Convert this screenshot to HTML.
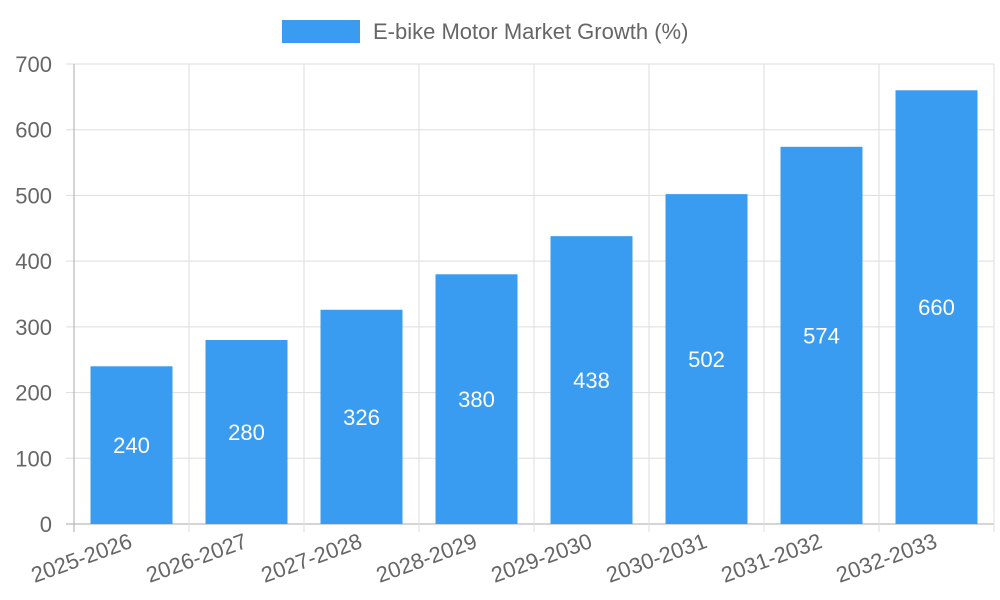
<!DOCTYPE html>
<html><head><meta charset="utf-8"><style>
html,body{margin:0;padding:0;background:#fff;}
svg{display:block;font-family:"Liberation Sans",sans-serif;}
</style></head><body>
<svg id="chart" width="1000" height="600"></svg>
<script>
const categories=["2025-2026","2026-2027","2027-2028","2028-2029","2029-2030","2030-2031","2031-2032","2032-2033"];
const values=[240,280,326,380,438,502,574,660];
const yTicks=[0,100,200,300,400,500,600,700];
const seriesName="E-bike Motor Market Growth (%)";

const NS="http://www.w3.org/2000/svg";
const svg=document.getElementById('chart');
const L=74,R=994,T=64,B=524,yMax=700;
const yScale=v=>B-(v/yMax)*(B-T);
const bw=(R-L)/categories.length;
const xC=i=>L+bw*(i+0.5);
function mk(tag,attrs,parent){const e=document.createElementNS(NS,tag);for(const k in attrs)e.setAttribute(k,attrs[k]);(parent||svg).appendChild(e);return e;}

const grid=mk('g',{});


yTicks.forEach(t=>{
  const y=yScale(t);
  const l=mk('line',{x1:L-8,x2:R,y1:y,y2:y,stroke:t===0?'#aaa':'#ddd','stroke-width':1},grid);
  
  
  const tx=mk('text',{x:L-22,y:y+8,'text-anchor':'end','font-size':22,fill:'#666'});
  tx.textContent=t;
  
  
});
for(let i=0;i<=categories.length;i++){
  const x=L+bw*i;
  const l=mk('line',{x1:x,x2:x,y1:T,y2:B+8,stroke:i===0?'#aaa':'#ddd','stroke-width':1},grid);
  
  
}
categories.forEach((c,i)=>{
  const v=values[i];
  const x=xC(i)-41, w=82, y=yScale(v);
  const r=mk('rect',{x:x,y:y,width:w,height:B-y,fill:'#399cf0'});
  
  
  const vt=mk('text',{x:xC(i),y:(y+B)/2+8,'text-anchor':'middle','font-size':22,fill:'#fff'});
  vt.textContent=v;
  
  
  const ax=xC(i)+2, ay=547;
  const xl=mk('text',{x:ax,y:ay,'text-anchor':'end','font-size':22,fill:'#666',transform:`rotate(-20 ${ax} ${ay})`});
  xl.textContent=c;
  
  
});
const lg=mk('g',{});


mk('rect',{x:282,y:20,width:78,height:23,fill:'#399cf0'},lg);
const lt=mk('text',{x:373,y:39,'font-size':22,fill:'#666'},lg);
lt.textContent=seriesName;
</script>
</body></html>
